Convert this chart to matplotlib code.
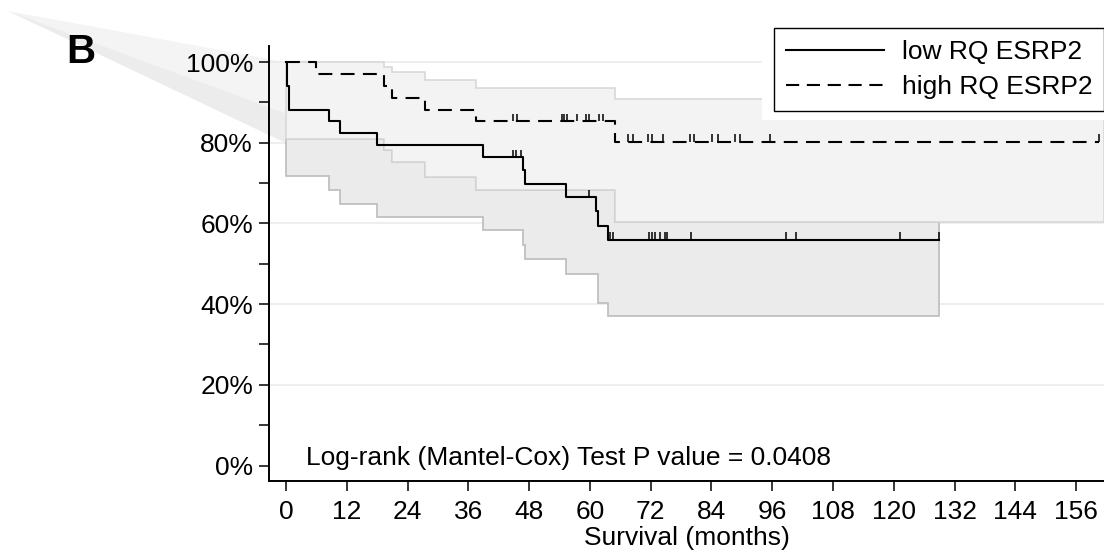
import matplotlib
matplotlib.use("Agg")
import matplotlib.pyplot as plt
from matplotlib.lines import Line2D
from matplotlib.patches import Polygon, Rectangle
import numpy as np

plt.rcParams["font.family"] = ["Liberation Sans", "DejaVu Sans"]
plt.rcParams["lines.scale_dashes"] = False

# Kaplan-Meier survival (%), value holds from each time (months) onward
low_t = [0, 0.2, 0.6, 8.4, 10.7, 17.9, 38.8, 46.7, 47.1, 55.3, 61.3, 61.6, 63.6]
low_s = [100, 94.1, 88.2, 85.3, 82.4, 79.4, 76.5, 73.2, 69.8, 66.5, 63.0, 59.5, 56.0]
low_end = 128.9
low_cens = [44.8, 45.4, 46.4, 59.8, 63.9, 64.6, 71.7, 72.3, 72.9, 73.9, 74.9, 75.2,
            80.0, 98.8, 100.6, 121.2, 128.9]

high_t = [0, 6.0, 19.4, 21.0, 27.5, 37.5, 65.0]
high_s = [100, 97.1, 94.1, 91.2, 88.2, 85.3, 80.3]
high_end = 160.6
high_cens = [44.9, 45.6, 54.5, 54.9, 55.5, 57.5, 59.3, 59.8, 61.7, 62.6,
             67.6, 68.5, 71.4, 72.2, 74.5, 79.8, 80.6, 84.1, 85.2, 88.7, 89.7, 95.5, 160.6]

# 95% confidence bands
high_ci_t = [0, 19.4, 21.0, 27.5, 37.5, 65.0]
high_ci_up = [100, 98.7, 97.5, 95.5, 93.5, 90.8]
high_ci_lo = [80.9, 78.2, 75.2, 71.6, 68.2, 60.3]
low_ci_t = [0, 8.4, 10.7, 17.9, 38.8, 46.7, 47.1, 55.3, 61.5, 63.6]
low_ci_lo = [71.7, 68.2, 64.9, 61.7, 58.4, 54.7, 51.2, 47.6, 40.4, 37.0]

x_ticks = list(range(0, 157, 12))
y_ticks = [0, 20, 40, 60, 80, 100]
p_text = "Log-rank (Mantel-Cox) Test P value = 0.0408"
labels = ["low RQ ESRP2", "high RQ ESRP2"]

XMIN, XMAX = -3.36, 161.5
YMIN, YMAX = -3.84, 104.0
FS = 19


def steps(t, v, t_end):
    xs, ys = [], []
    for i in range(len(t)):
        x1 = t[i + 1] if i + 1 < len(t) else t_end
        xs += [t[i], x1]
        ys += [v[i], v[i]]
    return np.array(xs), np.array(ys)


def level(t, v, c):
    idx = np.searchsorted(t, c, side="right") - 1
    return np.array(v)[idx]


fig = plt.figure(figsize=(11.04, 5.52), dpi=100)
ax = fig.add_axes([269 / 1104, 1 - 481 / 552, 835 / 1104, 435 / 552])
ax.patch.set_alpha(0)
ax.set_xlim(XMIN, XMAX)
ax.set_ylim(YMIN, YMAX)

# grey smear running off the top-left corner of the bands
to_fig = lambda pts: fig.transFigure.inverted().transform(ax.transData.transform(pts))
apex = (8 / 1104, 1 - 11 / 552)
light = [apex] + list(to_fig([(0, high_ci_up[0]), (0, high_ci_lo[0])]))
dark = [apex] + list(to_fig([(0, low_s[2] - 1), (high_t[1], high_ci_lo[0]), (0, high_ci_lo[0] - 1)]))
ax.add_patch(Polygon(light, closed=True, facecolor="#f4f4f4", edgecolor="none",
                     transform=fig.transFigure, clip_on=False, zorder=0.4))
ax.add_patch(Polygon(dark, closed=True, facecolor="#ececec", edgecolor="none",
                     transform=fig.transFigure, clip_on=False, zorder=0.45))

ax.hlines(y_ticks[1:], XMIN, XMAX, color="#e9e9e9", lw=1.1, zorder=0.6)

# low group band, visible below the high group band
lx, ly = steps(low_ci_t, low_ci_lo, low_end)
hx, hy = steps(high_ci_t, high_ci_lo, low_end)
low_poly = np.column_stack([np.concatenate([lx, hx[::-1]]), np.concatenate([ly, hy[::-1]])])
ax.add_patch(Polygon(low_poly, closed=True, facecolor="#ebebeb", edgecolor="#c0c0c0",
                     lw=1.3, zorder=1))

ux, uy = steps(high_ci_t, high_ci_up, XMAX)
bx, by = steps(high_ci_t, high_ci_lo, XMAX)
high_poly = np.column_stack([np.concatenate([ux, bx[::-1]]), np.concatenate([uy, by[::-1]])])
ax.add_patch(Polygon(high_poly, closed=True, facecolor="#f3f3f3", edgecolor="#d6d6d6",
                     lw=1.1, zorder=1.1))

# survival curves with censor marks
x, y = steps(low_t, low_s, low_end)
ax.plot(x, y, color="black", lw=1.5, zorder=3)
s = level(low_t, low_s, low_cens)
ax.vlines(low_cens, s, s + 1.8, color="black", lw=1.1, zorder=3)

x, y = steps(high_t, high_s, high_end)
ax.plot(x, y, color="black", lw=1.5, dashes=(10, 6), zorder=3)
s = level(high_t, high_s, high_cens)
ax.vlines(high_cens, s, s + 1.8, color="black", lw=1.1, zorder=3)

ax.spines["top"].set_visible(False)
ax.spines["right"].set_visible(False)
for side in ("left", "bottom"):
    ax.spines[side].set_linewidth(1.4)

ax.set_xticks(x_ticks)
ax.set_yticks(y_ticks)
ax.set_yticklabels([f"{v}%" for v in y_ticks])
ax.set_yticks([10, 30, 50, 70, 90], minor=True)
ax.tick_params(axis="both", which="both", length=7.5, width=1.1, labelsize=FS, pad=4)
ax.tick_params(axis="x", pad=6)
ax.set_xlabel("Survival (months)", fontsize=FS, labelpad=1.5)

ax.text(3.9, 0.1, p_text, fontsize=FS, va="baseline", zorder=4)

# white area behind the legend box
ax.add_patch(Rectangle((762 / 1104, 1 - 120 / 552), 342 / 1104, 104 / 552,
                       facecolor="white", edgecolor="none", transform=fig.transFigure,
                       clip_on=False, zorder=4))
handles = [Line2D([], [], color="black", lw=1.5),
           Line2D([], [], color="black", lw=1.5, dashes=(9.5, 5.5))]
leg = ax.legend(handles, labels, loc="upper left", bbox_to_anchor=(774 / 1104, 1 - 28 / 552),
                bbox_transform=fig.transFigure, borderaxespad=0, fontsize=FS,
                handlelength=3.7, handletextpad=0.7, borderpad=0.45, labelspacing=0.42,
                fancybox=False, framealpha=1, edgecolor="black")
leg.get_frame().set_linewidth(1.0)
leg.set_zorder(5)

fig.text(66 / 1104, 1 - 63 / 552, "B", fontsize=29, fontweight="bold", va="baseline")

fig.savefig("out.png", dpi=100)
